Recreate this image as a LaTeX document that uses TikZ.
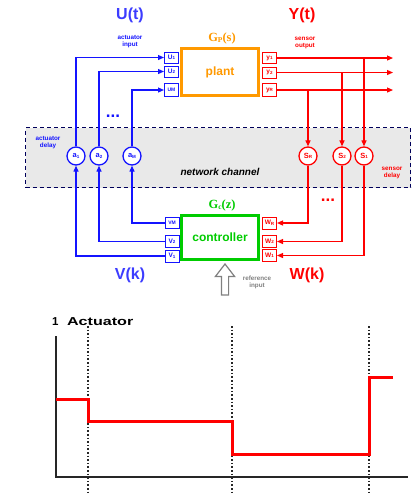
\documentclass[tikz,border=0pt]{standalone}
\usepackage{fontspec}
\setmainfont{Liberation Sans}
\newfontfamily\gfont{Liberation Serif}
\usetikzlibrary{arrows.meta,positioning,calc,shapes.arrows}
\definecolor{actblue}{RGB}{20,20,255}
\definecolor{lblblue}{RGB}{60,60,255}
\definecolor{senred}{RGB}{255,0,0}
\definecolor{plantorange}{RGB}{255,153,0}
\definecolor{ctrlgreen}{RGB}{0,204,0}
\definecolor{netnavy}{RGB}{0,0,90}
\newcommand{\tinyfont}{\fontsize{6.3}{7}\selectfont\bfseries}
\newcommand{\idx}[1]{\raisebox{-0.5pt}{\fontsize{4.5}{5}\selectfont #1}}
\tikzset{
  port/.style={draw, line width=1pt, fill=white, minimum width=14pt, minimum height=11pt,
               inner sep=0pt, font=\fontsize{6.5}{7}\selectfont\bfseries},
  aport/.style={port, draw=actblue, text=actblue},
  sport/.style={port, draw=senred, text=senred},
  delay/.style={circle, draw, line width=1.3pt, fill=white, minimum size=18pt, inner sep=0pt,
                font=\fontsize{7.5}{8}\selectfont\bfseries},
  adelay/.style={delay, draw=actblue, text=actblue},
  sdelay/.style={delay, draw=senred, text=senred},
  mainbox/.style={draw, line width=3pt, fill=white, minimum width=77pt, font=\fontsize{12}{12}\selectfont\bfseries},
  biglbl/.style={font=\fontsize{16}{16}\selectfont\bfseries},
  smalllbl/.style={font=\tinyfont, align=center},
  glbl/.style={font=\gfont\fontsize{12.5}{12.5}\selectfont\bfseries},
  dots/.style={font=\fontsize{17}{17}\selectfont\bfseries, anchor=base},
  edge/.style={-{Triangle[length=6pt,width=5pt]}, line width=1.2pt},
  wire/.style={line width=1.2pt}
}
\begin{document}
\begin{tikzpicture}[x=1pt,y=-1pt]
  \useasboundingbox (0,0) rectangle (417,493);
  % network channel
  \node[draw=netnavy, fill=gray!17, line width=1.6pt, dash pattern=on 4pt off 3pt,
        minimum width=385pt, minimum height=60pt] (net) at (218,157.5) {};
  \node[font=\fontsize{10}{10}\selectfont\bfseries\itshape] (netlbl) at (220,172) {network channel};
  \node[smalllbl, text=actblue] (adlbl) at (48,143) {actuator\\delay};
  \node[smalllbl, text=senred] (sdlbl) at (392,173) {sensor\\delay};

  % plant and controller
  \node[mainbox, draw=plantorange, text=plantorange, minimum height=47pt] (plant) at (220,72) {plant};
  \node[mainbox, draw=ctrlgreen, text=ctrlgreen, minimum height=44pt] (ctrl) at (220,237.5) {controller};
  \node[glbl, text=plantorange] (gp) at (222,38) {G\raisebox{-1pt}{\fontsize{7.5}{7.5}\selectfont P}(s)};
  \node[glbl, text=ctrlgreen] (gc) at (222,205) {G\raisebox{-1pt}{\fontsize{7.5}{7.5}\selectfont c}(z)};

  % ports
  \node[aport] (u1) at (171.5,57.5) {U\idx{1}};
  \node[aport] (u2) at (171.5,71.5) {U\idx{2}};
  \node[aport, minimum height=13pt] (um) at (171.5,90) {\fontsize{5}{5}\selectfont UM};
  \node[sport] (y1) at (269.5,58) {y\idx{1}};
  \node[sport] (y2) at (269.5,72.5) {y\idx{2}};
  \node[sport, minimum height=13pt] (yr) at (269.5,90) {y\idx{R}};
  \node[aport] (vm) at (172,223) {\fontsize{5}{5}\selectfont VM};
  \node[aport, minimum height=12pt] (v2) at (172,241.5) {V\idx{2}};
  \node[aport, minimum height=12pt] (v1) at (172,256) {V\idx{1}};
  \node[sport, minimum height=12pt] (wr) at (269.5,223) {W\idx{R}};
  \node[sport, minimum height=12pt] (w2) at (269.5,241.5) {W\idx{2}};
  \node[sport, minimum height=12pt] (w1) at (269.5,255.5) {W\idx{1}};

  % delays
  \node[adelay] (a1) at (76,156) {a\idx{1}};
  \node[adelay] (a2) at (99,156) {a\idx{2}};
  \node[adelay] (am) at (132,156) {a\idx{M}};
  \node[sdelay] (sr) at (308,156) {S\idx{R}};
  \node[sdelay] (s2) at (342,156) {S\idx{2}};
  \node[sdelay] (s1) at (364,156) {S\idx{1}};

  % labels
  \node[biglbl, text=lblblue] (ut) at (130,15) {U(t)};
  \node[smalllbl, text=actblue] (utlbl) at (130,42) {actuator\\input};
  \node[biglbl, text=senred] (yt) at (302,15) {Y(t)};
  \node[smalllbl, text=senred] (ytlbl) at (305,42.5) {sensor\\output};
  \node[biglbl, text=lblblue] (vk) at (130,275) {V(k)};
  \node[biglbl, text=senred] (wk) at (307,275) {W(k)};
  \node[dots, text=actblue] (adots) at (113,117) {...};
  \node[dots, text=senred] (sdots) at (328,201) {...};

  % reference input
  \node[single arrow, draw=gray, line width=1.2pt, fill=white, shape border rotate=90,
        minimum height=31pt, minimum width=19pt, single arrow head extend=6pt,
        single arrow tip angle=75, inner sep=3pt, anchor=tip] (ref) at (225,263) {};
  \node[smalllbl, text=gray] (reflbl) at (257,282.5) {reference\\input};

  % actuator side
  \draw[edge, actblue] (a1.north) |- (u1.west);
  \draw[edge, actblue] (a2.north) |- (u2.west);
  \draw[edge, actblue] (am.north) |- (um.west);
  \draw[edge, actblue] (v1.west) -| (a1.south);
  \draw[edge, actblue] (v2.west) -| (a2.south);
  \draw[edge, actblue] (vm.west) -| (am.south);

  % sensor side
  \coordinate (o1) at (393,58);
  \coordinate (o2) at (393,72.5);
  \coordinate (or) at (393,90);
  \draw[edge, senred] (y1.east) -- (o1);
  \draw[edge, senred] (y2.east) -- (o2);
  \draw[edge, senred] (yr.east) -- (or);
  \draw[edge, senred] (s1.north |- y1.east) -- (s1.north);
  \draw[edge, senred] (s2.north |- y2.east) -- (s2.north);
  \draw[edge, senred] (sr.north |- yr.east) -- (sr.north);
  \draw[edge, senred] (s1.south) |- (w1.east);
  \draw[edge, senred] (s2.south) |- (w2.east);
  \draw[edge, senred] (sr.south) |- (wr.east);

  % actuator plot
  \node[font=\fontsize{11.5}{12}\selectfont\bfseries, anchor=west, inner sep=0pt] (plotlbl) at (52,322)
    {1\hspace{8.5pt}\scalebox{1.4}[1]{Actuator}};
  \coordinate (orig) at (56,477);
  \draw[line width=1.2pt, black!85] (56,336) -- (orig) -- (408,477);
  \foreach \tx in {88,232,369}
    \draw[line width=1.6pt, dotted, black!85] (\tx,326) -- (\tx,493);
  \draw[senred, line width=3pt, line join=miter] (56,399) -- (88,399) -- (88,421) -- (232,421)
    -- (232,454) -- (369,454) -- (369,377) -- (393,377);
\end{tikzpicture}
\end{document}
